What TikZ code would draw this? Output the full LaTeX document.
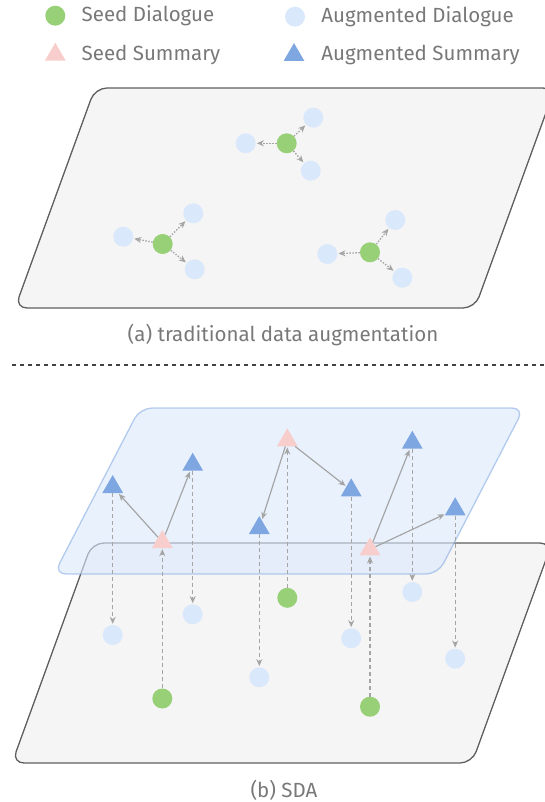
\documentclass[tikz,border=0pt]{standalone}
\usepackage{fontspec}
\setmainfont{Fira Sans}
\usetikzlibrary{positioning, arrows.meta, shapes.geometric}

\definecolor{seedgreen}{RGB}{151,208,119}
\definecolor{auglight}{RGB}{218,232,252}
\definecolor{seedpink}{RGB}{248,206,204}
\definecolor{augblue}{RGB}{126,166,224}
\definecolor{planefill}{RGB}{245,245,245}
\definecolor{planeline}{RGB}{95,95,95}
\definecolor{linkgray}{RGB}{165,165,165}
\definecolor{txtgray}{RGB}{120,120,120}

\tikzset{
  seed/.style={circle, fill=seedgreen, minimum size=20pt, inner sep=0pt, on grid},
  aug/.style={circle, fill=auglight, minimum size=20pt, inner sep=0pt, on grid},
  seedsum/.style={regular polygon, regular polygon sides=3, fill=seedpink, minimum size=24pt, inner sep=0pt},
  augsum/.style={regular polygon, regular polygon sides=3, fill=augblue, minimum size=24pt, inner sep=0pt},
  lbl/.style={text=txtgray, font=\fontsize{20.5}{23}\selectfont, inner sep=0pt},
  plane/.style={fill=planefill, draw=planeline, line width=1.3pt, rounded corners=12pt},
  upper/.style={fill=auglight, fill opacity=0.6, draw=augblue, draw opacity=0.55, line width=1.3pt, rounded corners=12pt},
  dotlink/.style={draw=linkgray, line width=1.3pt, dash pattern=on 1.5pt off 1.5pt, shorten >=1pt, -{Stealth[length=7pt,width=6pt]}},
  dashlink/.style={draw=linkgray, line width=1.2pt, dash pattern=on 4pt off 3pt, shorten >=1pt, -{Stealth[length=7pt,width=6pt]}},
  sumlink/.style={draw=linkgray, line width=1.2pt, shorten >=1pt, -{Stealth[length=7pt,width=6pt]}}
}

\begin{document}
\begin{tikzpicture}[x=1pt,y=-1pt]
  \clip (0,0) rectangle (545,802);

  % legend
  \node[seed] (l_1) at (55.3,15.7) {};
  \node[lbl, right=16pt of l_1] (lt_1) {Seed Dialogue};
  \node[aug] (l_2) at (295,16.7) {};
  \node[lbl, right=16pt of l_2] (lt_2) {Augmented Dialogue};
  \node[seedsum] (l_3) at (55.3,54.7) {};
  \node[lbl, right=19pt of l_3] (lt_3) {Seed Summary};
  \node[augsum] (l_4) at (294,55) {};
  \node[lbl, right=20pt of l_4] (lt_4) {Augmented Summary};

  % (a) traditional data augmentation
  \draw[plane] (95,88) -- (555,88) -- (475,308) -- (15,308) -- cycle;
  \node[seed] (d_1) at (286.7,143.3) {};
  \node[aug] (a_1) [left=41pt of d_1] {};
  \node[aug] (a_2) [above right=25.6pt and 26.6pt of d_1] {};
  \node[aug] (a_3) [below right=27.4pt and 24pt of d_1] {};
  \node[seed] (d_2) at (162.7,244) {};
  \node[aug] (a_4) [above left=7.3pt and 39.4pt of d_2] {};
  \node[aug] (a_5) [above right=30.7pt and 30.6pt of d_2] {};
  \node[aug] (a_6) [below right=25.3pt and 32pt of d_2] {};
  \node[seed] (d_3) at (370,252.3) {};
  \node[aug] (a_7) [below left=1.7pt and 42.7pt of d_3] {};
  \node[aug] (a_8) [above right=32.3pt and 25.3pt of d_3] {};
  \node[aug] (a_9) [below right=25.4pt and 32.3pt of d_3] {};
  \path[dotlink]
    (d_1) edge (a_1) edge (a_2) edge (a_3)
    (d_2) edge (a_4) edge (a_5) edge (a_6)
    (d_3) edge (a_7) edge (a_8) edge (a_9);
  \node[lbl] (cap_a) at (283,335) {(a) traditional data augmentation};

  \draw[planeline!70!black, line width=1.2pt, dash pattern=on 4pt off 4pt] (12,365) -- (545,365);

  % (b) SDA
  \draw[plane] (92,543) -- (552,543) -- (472,763) -- (12,763) -- cycle;
  \draw[upper] (140,408) -- (524,408) -- (438,574) -- (54,574) -- cycle;
  \node[seedsum] (s_1) at (162.3,542) {};
  \node[seedsum] (s_2) at (287.3,440.3) {};
  \node[seedsum] (s_3) at (370,549.3) {};
  \node[augsum] (b_1) at (112.7,487) {};
  \node[augsum] (b_2) at (192.7,464.7) {};
  \node[augsum] (b_3) at (259.3,528) {};
  \node[augsum] (b_4) at (351.2,490.3) {};
  \node[augsum] (b_5) at (412.3,442.7) {};
  \node[augsum] (b_6) at (455.2,509.3) {};
  \node[seed] (e_1) [below=156.5pt of s_1] {};
  \node[seed] (e_2) [below=157.5pt of s_2] {};
  \node[seed] (e_3) [below=157.4pt of s_3] {};
  \node[aug] (c_1) [below=148pt of b_1] {};
  \node[aug] (c_2) [below=149.6pt of b_2] {};
  \node[aug] (c_3) [below=149.3pt of b_3] {};
  \node[aug] (c_4) [below=148pt of b_4] {};
  \node[aug] (c_5) [below=149.3pt of b_5] {};
  \node[aug] (c_6) [below=149.4pt of b_6] {};
  \path[dashlink]
    (e_1) edge (s_1)
    (e_2) edge (s_2)
    (e_3) edge (s_3)
    (b_1) edge (c_1)
    (b_2) edge (c_2)
    (b_3) edge (c_3)
    (b_4) edge (c_4)
    (b_5) edge (c_5)
    (b_6) edge (c_6);
  \path[sumlink]
    (s_1) edge (b_1) edge (b_2)
    (s_2) edge (b_3) edge (b_4)
    (s_3) edge (b_5) edge (b_6);
  \node[lbl] (cap_b) at (284,790) {(b) SDA};
\end{tikzpicture}
\end{document}
